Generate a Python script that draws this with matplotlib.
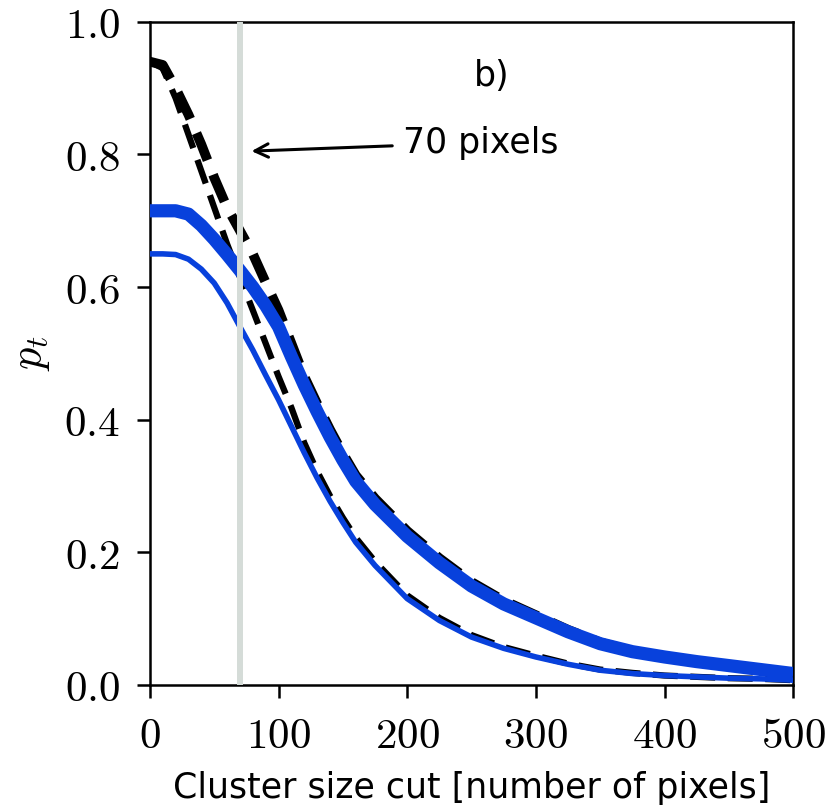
import numpy as np
import matplotlib
matplotlib.use("Agg")
import matplotlib.pyplot as plt

plt.rcParams['mathtext.fontset'] = 'cm'

# cluster size cut values
x = [0, 10, 20, 30, 40, 50, 60, 70, 80, 90, 100, 110, 120, 130, 140, 150, 160,
     175, 200, 225, 250, 275, 300, 325, 350, 375, 400, 425, 450, 475, 500]

# thick blue curve
blue_thick = [0.715, 0.715, 0.715, 0.71, 0.693, 0.672, 0.649, 0.625, 0.60, 0.572, 0.54,
              0.495, 0.452, 0.412, 0.374, 0.339, 0.307, 0.272, 0.224, 0.184, 0.149,
              0.122, 0.101, 0.08, 0.062, 0.05, 0.042, 0.035, 0.029, 0.023, 0.017]

# thin blue curve
blue_thin = [0.65, 0.65, 0.649, 0.642, 0.627, 0.606, 0.576, 0.54, 0.505, 0.467, 0.43,
             0.39, 0.35, 0.312, 0.277, 0.245, 0.215, 0.18, 0.13, 0.097, 0.072,
             0.055, 0.042, 0.031, 0.022, 0.017, 0.014, 0.012, 0.01, 0.009, 0.007]

# black dashed curves
black_thick = [0.94, 0.935, 0.90, 0.86, 0.815, 0.765, 0.72, 0.685, 0.65, 0.607, 0.565,
               0.515, 0.465, 0.424, 0.385, 0.349, 0.316, 0.281, 0.232, 0.191, 0.155,
               0.127, 0.105, 0.083, 0.064, 0.051, 0.043, 0.035, 0.029, 0.023, 0.017]
black_thin = [0.94, 0.93, 0.885, 0.83, 0.775, 0.72, 0.665, 0.615, 0.565, 0.515, 0.465,
              0.418, 0.365, 0.322, 0.285, 0.252, 0.222, 0.186, 0.135, 0.101, 0.075,
              0.057, 0.044, 0.032, 0.023, 0.018, 0.014, 0.012, 0.01, 0.009, 0.007]

cut = 70

fig = plt.figure(figsize=(8.28, 8.09), dpi=100)
ax = fig.add_axes([0.181, 0.1535, 0.777, 0.8195])

ax.plot(x, black_thick, color='black', lw=7, dashes=(3, 1.6), zorder=2)
ax.plot(x, black_thin, color='black', lw=4.5, dashes=(4, 2), zorder=2)
ax.plot(x, blue_thick, color='#0841dc', lw=9.5, solid_capstyle='butt', zorder=3)
ax.plot(x, blue_thin, color='#0841dc', lw=4, solid_capstyle='butt', zorder=3)
ax.axvline(cut, color='#d5dcd8', lw=4.3, zorder=4)

ax.annotate('70 pixels', xy=(79, 0.805), xytext=(197, 0.818),
            fontsize=25, va='center', ha='left',
            arrowprops=dict(arrowstyle='->', color='black', lw=2.2,
                            mutation_scale=24, shrinkA=6, shrinkB=0))
ax.text(266, 0.918, 'b)', fontsize=25, ha='center', va='center')

ax.set_xlim(0, 500)
ax.set_ylim(0, 1.0)
xt = [0, 100, 200, 300, 400, 500]
yt = [0.0, 0.2, 0.4, 0.6, 0.8, 1.0]
ax.set_xticks(xt)
ax.set_xticklabels(['$%d$' % v for v in xt])
ax.set_yticks(yt)
ax.set_yticklabels(['$%.1f$' % v for v in yt])
ax.tick_params(direction='out', length=9.5, width=1.8, labelsize=31, pad=12)
for s in ax.spines.values():
    s.set_linewidth(1.8)

ax.set_xlabel('Cluster size cut [number of pixels]', fontsize=25, labelpad=10)
ax.set_ylabel('$p_t$', fontsize=32, labelpad=9)

fig.savefig('out.png', dpi=100)
